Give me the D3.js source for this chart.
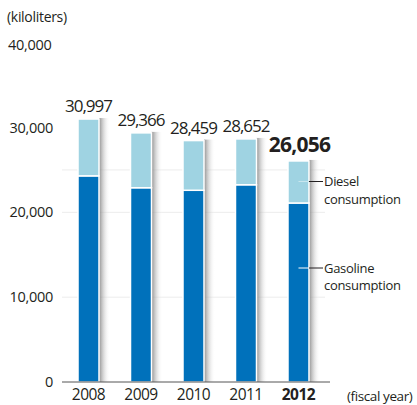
<!DOCTYPE html>
<html><head><meta charset="utf-8">
<script src="https://cdn.jsdelivr.net/npm/d3@7"></script>
<style>
html,body{margin:0;padding:0;background:#fff;overflow:hidden}
text{font-family:"Open Sans","Noto Sans",sans-serif;fill:#231f20}
</style></head><body>
<svg id="c" width="417" height="405"></svg>
<script>
const years = ["2008","2009","2010","2011","2012"];
const gasoline = [24300, 22900, 22600, 23250, 21100];
const totals = [30997, 29366, 28459, 28652, 26056];
const totalLabels = ["30,997","29,366","28,459","28,652","26,056"];
const yTicks = [0, 10000, 20000, 30000, 40000];
const colors = {gasoline:"#0071bb", diesel:"#9fd3e2"};

const svg = d3.select("#c");
const y = d3.scaleLinear().domain([0, 30000]).range([382, 127.5]);
const x = d3.scaleBand().domain(years).range([62, 325]).paddingInner(0.6).paddingOuter(0.305);

const defs = svg.append("defs");
const g = defs.append("linearGradient").attr("id","sh").attr("x1",0).attr("x2",1).attr("y1",0).attr("y2",0);
g.append("stop").attr("offset",0).attr("stop-color","#7a7a7a").attr("stop-opacity",0.85);
g.append("stop").attr("offset",0.35).attr("stop-color","#aaaaaa").attr("stop-opacity",0.55);
g.append("stop").attr("offset",1).attr("stop-color","#ffffff").attr("stop-opacity",0);

// faint gridlines
svg.append("g").selectAll("line").data([10000,20000,25000]).join("line")
  .attr("x1",62).attr("x2",325).attr("y1",d=>y(d)).attr("y2",d=>y(d))
  .attr("stroke","#ececec").attr("stroke-width",1);

// y tick labels
const yl = svg.append("g");
yl.selectAll("text").data(yTicks).join("text")
  .attr("x",d=> d===40000 ? 8 : 53)
  .attr("y",d=> d===40000 ? 50 : y(d)+5)
  .attr("text-anchor",d=> d===40000 ? "start" : "end")
  .attr("font-size",14.5).attr("letter-spacing",-0.3)
  .text(d=>d3.format(",")(d));

svg.append("text").attr("x",7).attr("y",22).attr("font-size",14).attr("letter-spacing",-0.3).text("(kiloliters)");

// shadows
svg.append("g").selectAll("rect").data(years).join("rect")
  .attr("x",d=>x(d)+x.bandwidth()).attr("width",11)
  .attr("y",(d,i)=>y(totals[i])-1).attr("height",(d,i)=>382-y(totals[i])+1)
  .attr("fill","url(#sh)");

// gasoline
svg.append("g").selectAll("rect").data(years).join("rect")
  .attr("x",d=>x(d)).attr("width",x.bandwidth())
  .attr("y",(d,i)=>y(gasoline[i])).attr("height",(d,i)=>y(0)-y(gasoline[i]))
  .attr("fill",colors.gasoline).attr("stroke","#fff").attr("stroke-width",1.5);
// diesel
svg.append("g").selectAll("rect").data(years).join("rect")
  .attr("x",d=>x(d)).attr("width",x.bandwidth())
  .attr("y",(d,i)=>y(totals[i])).attr("height",(d,i)=>y(gasoline[i])-y(totals[i]))
  .attr("fill",colors.diesel).attr("stroke","#fff").attr("stroke-width",1.5);

// axis line
svg.append("line").attr("x1",62).attr("x2",330).attr("y1",382).attr("y2",382)
  .attr("stroke","#555").attr("stroke-width",1);

// value labels
svg.append("g").selectAll("text").data(years).join("text")
  .attr("x",(d,i)=> x(d)+x.bandwidth()/2 + (i===4 ? 1 : 0))
  .attr("y",(d,i)=> i===4 ? y(totals[i])-9 : y(totals[i])-7)
  .attr("text-anchor","middle")
  .attr("font-size",(d,i)=> i===4 ? 21 : 17)
  .attr("font-weight",(d,i)=> i===4 ? "bold" : "normal")
  .attr("letter-spacing",(d,i)=> i===4 ? -0.8 : -1)
  .text((d,i)=>totalLabels[i]);

// year labels
svg.append("g").selectAll("text").data(years).join("text")
  .attr("x",d=>x(d)+x.bandwidth()/2).attr("y",400).attr("text-anchor","middle")
  .attr("font-size",15.5).attr("letter-spacing",-0.5)
  .attr("font-weight",(d,i)=> i===4 ? "bold":"normal")
  .text(d=>d);
svg.append("text").attr("x",347).attr("y",401).attr("font-size",13.5).attr("letter-spacing",-0.4).text("(fiscal year)");

// legend callouts
const last = years[4];
const cx = x(last)+x.bandwidth()/2;
const legend = [
  {y: 181.5, lines:["Diesel","consumption"], inner:"#c8e6ee"},
  {y: 268, lines:["Gasoline","consumption"], inner:"#ffffff"}
];
legend.forEach(l=>{
  svg.append("line").attr("x1",cx).attr("x2",x(last)+x.bandwidth()).attr("y1",l.y).attr("y2",l.y).attr("stroke",l.inner).attr("stroke-width",1);
  svg.append("line").attr("x1",x(last)+x.bandwidth()).attr("x2",323).attr("y1",l.y).attr("y2",l.y).attr("stroke","#231f20").attr("stroke-width",1);
  const t = svg.append("text").attr("x",324).attr("y",l.y+4.5).attr("font-size",13).attr("letter-spacing",-0.3);
  l.lines.forEach((s,j)=>{
    t.append("tspan").attr("x",324).attr("dy", j===0 ? 0 : 17.8).text(s);
  });
});
</script>
</body></html>
